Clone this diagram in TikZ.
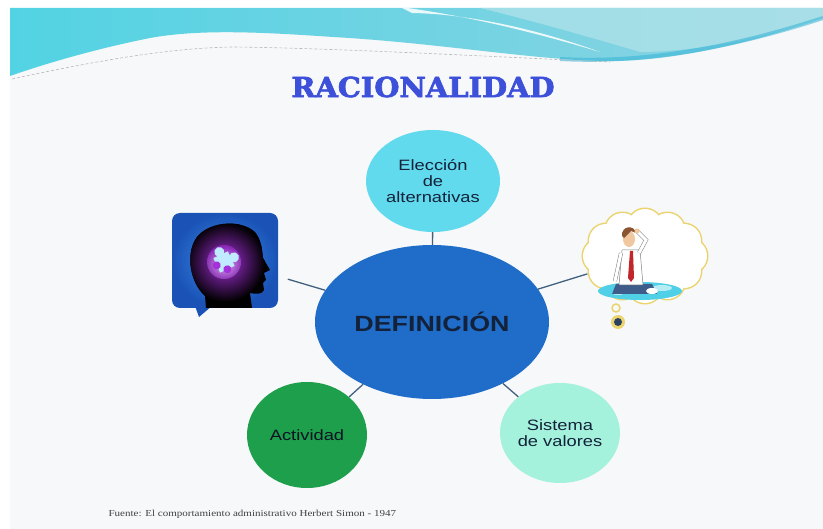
\documentclass[tikz,border=0pt]{standalone}
\usepackage{fontspec}
\setmainfont{Liberation Sans}
\newfontfamily\bubblefont[FakeStretch=1.22]{Liberation Sans}
\newfontfamily\titlefont[FakeStretch=1.05,FakeBold=2.5]{DejaVu Serif}
\newfontfamily\notefont[FakeStretch=1.2]{Liberation Serif}
\usetikzlibrary{shapes.geometric}

\definecolor{slidebg}{HTML}{F7F8FA}
\definecolor{bandcyan}{HTML}{52D3E3}
\definecolor{bandblue}{HTML}{78B7D2}
\definecolor{bandlight}{HTML}{8ED3E2}
\definecolor{bandpale}{HTML}{B3E3EA}
\definecolor{bandedge}{HTML}{35B4D6}
\definecolor{titleblue}{HTML}{3C50DA}
\definecolor{defblue}{HTML}{1F6DC9}
\definecolor{choicecyan}{HTML}{62DAEE}
\definecolor{actgreen}{HTML}{1E9F4B}
\definecolor{valmint}{HTML}{A4F1DC}
\definecolor{inknavy}{HTML}{13223A}
\definecolor{linkgrey}{HTML}{41607E}
\definecolor{headblue}{HTML}{3B8FEA}
\definecolor{headdark}{HTML}{1A52B6}
\definecolor{headglow}{HTML}{A530DC}
\definecolor{puzzle}{HTML}{BFEAFF}
\definecolor{cloudline}{HTML}{EBD36E}
\definecolor{skin}{HTML}{F1C7A0}
\definecolor{hair}{HTML}{8A5530}
\definecolor{tiered}{HTML}{C0262A}
\definecolor{water}{HTML}{4FD0E6}
\definecolor{pants}{HTML}{3E5C8A}

\begin{document}
\begin{tikzpicture}[x=1pt,y=-1pt,
  bubble/.style={ellipse, inner sep=0pt, align=center, text=inknavy,
    font=\bubblefont\fontsize{15}{16}\selectfont},
  link/.style={draw=linkgrey, line width=1.3pt}]

\useasboundingbox (0,0) rectangle (823,529);
\fill[white] (0,0) rectangle (823,529);
\fill[slidebg] (10,8) rectangle (823,529);

% wave band along the top
\shade[left color=bandcyan, middle color=bandblue, right color=bandlight]
  (10,8) -- (823,8) -- (823,18)
  .. controls (760,40) and (680,61) .. (610,61)
  .. controls (540,61) and (440,43) .. (333,37)
  .. controls (260,32) and (200,29) .. (150,38)
  .. controls (100,48) and (50,62) .. (10,76) -- cycle;
\fill[bandpale, opacity=.7] (480,8) -- (823,8) -- (823,18)
  .. controls (760,40) and (690,52) .. (640,52)
  .. controls (600,40) and (530,20) .. (480,8) -- cycle;
\fill[white, opacity=.85] (400,7) .. controls (470,16) and (540,34) .. (600,52)
  .. controls (540,30) and (470,14) .. (412,13) -- cycle;
\draw[bandedge, line width=4pt, opacity=.55] (560,59) .. controls (650,64) and (740,45) .. (823,18);
\draw[gray!55, dash pattern=on 3pt off 2pt, line width=.6pt]
  (12,79) .. controls (100,60) and (170,48) .. (233,47)
  .. controls (330,48) and (480,56) .. (610,62);

\node[font=\titlefont\bfseries\fontsize{27.5}{30}\selectfont, text=titleblue] (title) at (423,87) {RACIONALIDAD};

% head picture
\node[rounded corners=8pt, inner color=headblue, outer color=headdark,
  minimum width=106pt, minimum height=95pt] (head) at (225,260.5) {};
\fill[headdark] (195,306) -- (212,306) -- (199,317) -- cycle;
\def\headoutline{(206,308) -- (205,296) .. controls (190,282) and (186,256) .. (195,240)
  .. controls (205,222) and (240,218) .. (255,232) .. controls (262,240) and (262,252) .. (263,258)
  -- (270,270) -- (264,273) -- (266,280) -- (263,283) -- (264,290)
  .. controls (262,295) and (255,294) .. (250,293) -- (252,308) -- cycle}
\fill[black] \headoutline;
\begin{scope}
  \clip \headoutline;
  \shade[inner color=headglow, outer color=black] (225,262) circle (40);
\end{scope}
\begin{scope}[shift={(224,262)}, rotate=25]
  \shade[inner color=white, outer color=headglow, opacity=.6] (0,0) circle (17);
  \fill[puzzle] (-8,-8) rectangle (8,8);
  \fill[puzzle] (0,-11) circle (5) (11,0) circle (5);
  \fill[headglow] (0,8) circle (4) (-8,0) circle (4);
\end{scope}

% thought cloud with the man
\foreach \a in {0,30,...,330}
  \draw[cloudline, line width=3pt] ({645+45*cos(\a)},{256-30*sin(\a)}) circle (17);
\foreach \a in {0,30,...,330}
  \fill[white] ({645+45*cos(\a)},{256-30*sin(\a)}) circle (17);
\fill[white] (645,256) ellipse (45 and 30);
\fill[water] (640,291) ellipse (42 and 9);
\fill[white, opacity=.6] (662,288) ellipse (10 and 3) (618,293) ellipse (6 and 2);
\fill[pants] (616,284) -- (652,284) -- (657,294) -- (612,294) -- cycle;
\fill[white] (652,291) ellipse (6 and 3);
\filldraw[fill=white, draw=gray, line width=.5pt] (622,250) -- (640,250) -- (643,285) -- (619,285) -- cycle;
\fill[tiered] (630,251) -- (633,251) -- (634,278) -- (631,282) -- (628,278) -- cycle;
\draw[gray, line width=4pt] (621,253) -- (615,281);
\draw[white, line width=3pt] (621,253) -- (615,281);
\draw[gray, line width=4pt] (639,253) -- (646,240) -- (637,231);
\draw[white, line width=3pt] (639,253) -- (646,240) -- (637,231);
\fill[skin] (629,239) ellipse (6 and 8);
\fill[hair] (622,236) .. controls (621,226) and (634,224) .. (636,233) -- (631,231) -- (624,238) -- cycle;
\fill[skin] (637,231) circle (2.5);
\draw[cloudline, line width=1.5pt] (616,308) circle (4);
\fill[cloudline] (618,322) circle (7);
\fill[pants!70!black] (618,322) circle (4);

\node[ellipse, inner sep=0pt, minimum width=124pt, minimum height=94pt] (cloud) at (645,256) {};

% concept bubbles
\node[bubble, fill=defblue, minimum width=234pt, minimum height=154pt,
  font=\bubblefont\bfseries\fontsize{22}{24}\selectfont] (def) at (432,322) {DEFINICIÓN};
\node[bubble, fill=choicecyan, minimum width=134pt, minimum height=102pt] (choice) at (433,181) {Elección\\de\\alternativas};
\node[bubble, fill=actgreen, minimum width=120pt, minimum height=106pt, text=inknavy!60!black] (act) at (307,435) {Actividad};
\node[bubble, fill=valmint, minimum width=120pt, minimum height=100pt] (val) at (560,433) {Sistema\\de valores};

\draw[link] (def) -- (choice);
\draw[link] (def) -- (act);
\draw[link] (def) -- (val);
\draw[link, shorten <=10pt] (head) -- (def);
\draw[link] (def) -- (cloud);

\node[anchor=west, font=\notefont\fontsize{9.2}{10}\selectfont, text=black!75] (source) at (105,514)
  {Fuente: El comportamiento administrativo Herbert Simon - 1947};

\end{tikzpicture}
\end{document}
